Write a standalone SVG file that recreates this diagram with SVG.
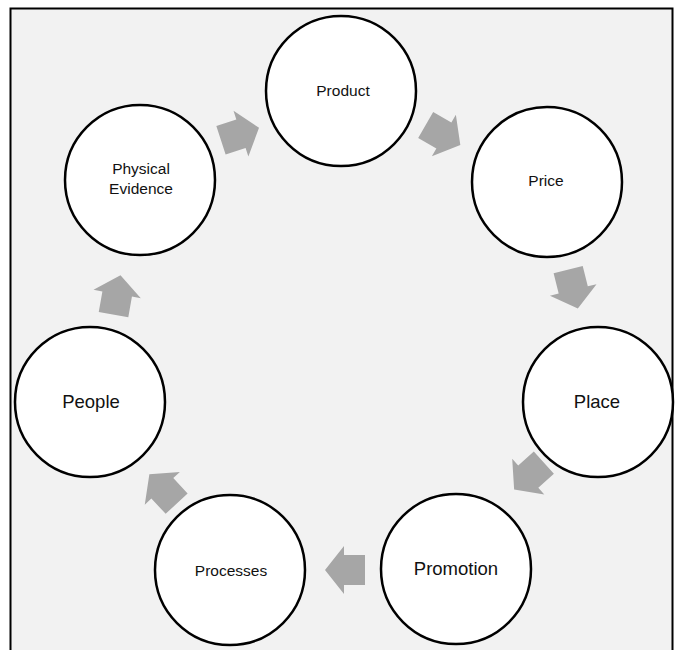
<svg xmlns="http://www.w3.org/2000/svg" width="681" height="650" viewBox="0 0 681 650">
<defs>
<style>
.node{fill:#ffffff;stroke:#000000;stroke-width:2.5}
.sm{font-family:"Liberation Sans",Arial,sans-serif;font-size:15.5px;fill:#111111;text-anchor:middle}
.lg{font-family:"Liberation Sans",Arial,sans-serif;font-size:18.5px;fill:#111111;text-anchor:middle}
.arr{fill:#a6a6a6}
</style>
<polygon id="arrow" points="-20,-15 1,-15 1,-24 20,0 1,24 1,15 -20,15"/>
</defs>
<rect x="10.5" y="8.5" width="662" height="660" fill="#f2f2f2" stroke="#000000" stroke-width="2"/>
<g id="connectors" class="arr">
<use href="#arrow" transform="translate(240,134) rotate(-18)"/>
<use href="#arrow" transform="translate(443,135) rotate(30)"/>
<use href="#arrow" transform="translate(573,289) rotate(76)"/>
<use href="#arrow" transform="translate(529,476) rotate(138)"/>
<use href="#arrow" transform="translate(345,570) rotate(180)"/>
<use href="#arrow" transform="translate(163,489) rotate(-133)"/>
<use href="#arrow" transform="translate(117,295) rotate(-80)"/>
</g>
<g id="product"><circle class="node" cx="341" cy="91" r="75"/><text class="sm" x="343" y="96">Product</text></g>
<g id="price"><circle class="node" cx="547" cy="182" r="75"/><text class="sm" x="546" y="186">Price</text></g>
<g id="place"><circle class="node" cx="598" cy="402" r="75"/><text class="lg" x="597" y="408">Place</text></g>
<g id="promotion"><circle class="node" cx="456" cy="569" r="75"/><text class="lg" x="456" y="575">Promotion</text></g>
<g id="processes"><circle class="node" cx="230" cy="570" r="75"/><text class="sm" x="231" y="576">Processes</text></g>
<g id="people"><circle class="node" cx="90" cy="402" r="75"/><text class="lg" x="91" y="408">People</text></g>
<g id="physical-evidence"><circle class="node" cx="140" cy="180" r="75"/><text class="sm" x="141" y="174">Physical</text><text class="sm" x="141" y="194">Evidence</text></g>
</svg>
